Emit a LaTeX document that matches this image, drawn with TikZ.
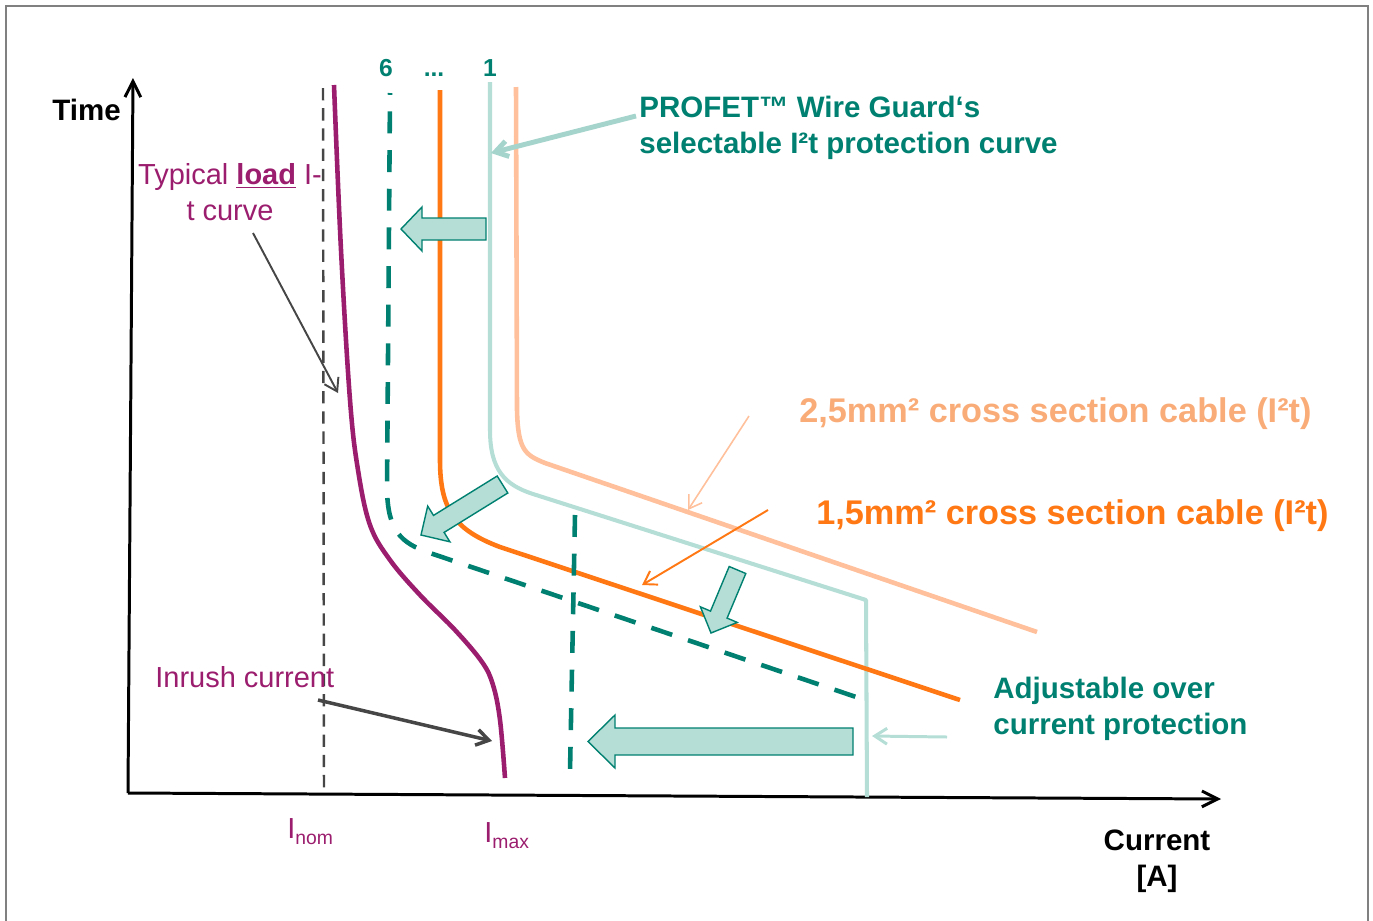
\documentclass[tikz,border=0pt]{standalone}
\usepackage{fontspec}
\setmainfont{Liberation Sans}
\usepackage{tikz}
\usetikzlibrary{arrows.meta,calc}
\definecolor{loadpurple}{RGB}{155,30,110}
\definecolor{guardteal}{RGB}{0,128,112}
\definecolor{guardlight}{RGB}{180,222,214}
\definecolor{calloutteal}{RGB}{165,212,204}
\definecolor{cableorange}{RGB}{255,120,20}
\definecolor{cablepeach}{RGB}{255,192,155}
\definecolor{peachtext}{RGB}{250,172,120}
\definecolor{axisgray}{RGB}{70,70,70}

\begin{document}
\begin{tikzpicture}[x=0.02cm, y=-0.02cm,
    every node/.style={inner sep=0pt, font=\fontsize{16.5}{20.4}\selectfont},
    lbl/.style={anchor=base west},
    bold/.style={font=\fontsize{16.8}{20.4}\selectfont\bfseries},
    cablelbl/.style={anchor=base west, font=\fontsize{19.5}{24}\selectfont\bfseries},
    axis/.style={line width=1.7pt, -{Straight Barb[length=9pt,width=9pt]}},
    barb/.style={-{Straight Barb[length=7pt,width=9pt]}},
    curve/.style={line width=2.6pt, line join=round},
    fatarrow/.style={draw=guardteal, fill=guardlight, line width=0.8pt}]
  \useasboundingbox (0,0) rectangle (1373,920);
  \draw[gray, line width=1.2pt] (6,930) -- (6,6) -- (1368,6) -- (1368,930);

  % axes
  \coordinate (origin) at (128,793);
  \coordinate (ytop) at (133,78);
  \coordinate (xend) at (1221,799);
  \draw[axis] (origin) -- (ytop);
  \draw[axis] (origin) -- (xend);
  \node[lbl, bold] (time) at (52,120) {Time};
  \node[bold, align=center, anchor=base] (current) at (1157,886) {Current\\{[A]}};

  % nominal current
  \draw[axisgray, line width=1.4pt, dash pattern=on 7pt off 4.5pt] (323,88) -- (324,793);
  \node[lbl, loadpurple] (inom) at (287,838) {I\raisebox{-0.22em}{\fontsize{11}{11}\selectfont nom}};
  \node[lbl, loadpurple] (imax) at (484,842) {I\raisebox{-0.22em}{\fontsize{11}{11}\selectfont max}};

  % curves
  \draw[curve, cablepeach] (516,87) -- (517,410) .. controls (518,450) and (525,455) .. (545,463) -- (1037,632);
  \draw[curve, guardlight, line width=2.3pt] (490,82) -- (490,430) .. controls (490,470) and (505,485) .. (533,494) -- (866,600) -- (867,797);
  \draw[curve, cableorange] (440,90) -- (440,460) .. controls (440,510) and (455,530) .. (500,547) -- (960,700);
  \draw[curve, guardteal, dash pattern=on 12.5pt off 9.5pt, dash phase=11.5pt] (390,93) -- (387,490) .. controls (388,530) and (400,543) .. (430,553) -- (865,700);
  \draw[curve, guardteal, dash pattern=on 12.5pt off 9.5pt] (575,515) -- (570,772);
  \draw[curve, loadpurple] plot[smooth, tension=0.6] coordinates {(334,85) (341,250) (350,400) (358,470) (370,525) (390,560) (420,595) (455,630) (482,662) (493,685) (500,720) (505,778)};

  \node[bold, guardteal, anchor=base] (six) at (386,76) {\fontsize{14}{14}\selectfont 6};
  \node[bold, guardteal, anchor=base] (dots) at (434,76) {\fontsize{14}{14}\selectfont ...};
  \node[bold, guardteal, anchor=base] (one) at (490,76) {\fontsize{14}{14}\selectfont 1};

  % shifting arrows
  \draw[fatarrow] (486,218) -- (422,218) -- (422,207) -- (401,229) -- (422,251) -- (422,240) -- (486,240) -- cycle;
  \draw[fatarrow] (497.2,476) -- (433.5,515.4) -- (427.7,506.1) -- (421,535) -- (449.9,541.8) -- (444.1,532.4) -- (507.8,493) -- cycle;
  \draw[fatarrow] (729.2,566.5) -- (710.5,611.1) -- (700.4,606.8) -- (711,633) -- (737.2,622.4) -- (727.1,618.1) -- (745.8,573.5) -- cycle;
  \draw[fatarrow] (853,728) -- (615,728) -- (615,715) -- (588,741.5) -- (615,768) -- (615,755) -- (853,755) -- cycle;

  % labels
  \node[loadpurple, align=center, anchor=base] (typical) at (230,220) {Typical \underline{\textbf{load}} I-\\t curve};
  \node[lbl, loadpurple] (inrush) at (155,687) {Inrush current};
  \node[lbl, bold, guardteal, align=left] (profet) at (639,153) {PROFET™ Wire Guard‘s\\selectable I²t protection curve};
  \node[cablelbl, peachtext] (cable25) at (799,422) {2,5mm² cross section cable (I²t)};
  \node[cablelbl, cableorange] (cable15) at (816,524) {1,5mm² cross section cable (I²t)};
  \node[lbl, bold, guardteal, align=left] (adjust) at (993,734) {Adjustable over\\current protection};

  % callouts
  \coordinate (loadpt) at (338,393);
  \coordinate (inrushpt) at (492,741);
  \coordinate (guardpt) at (491,153);
  \coordinate (peachpt) at (688,510);
  \coordinate (orangept) at (642,585);
  \coordinate (limitpt) at (872,736);
  \draw[barb, axisgray, line width=1.1pt] (253,233) -- (loadpt);
  \draw[barb, axisgray, line width=2pt] (318,700) -- (inrushpt);
  \draw[barb, calloutteal, line width=2.8pt] (636,116) -- (guardpt);
  \draw[barb, cablepeach, line width=0.9pt] (749,416) -- (peachpt);
  \draw[barb, cableorange, line width=1.1pt] (768,510) -- (orangept);
  \draw[barb, guardlight, line width=1.7pt] (947,737) -- (limitpt);
\end{tikzpicture}
\end{document}
